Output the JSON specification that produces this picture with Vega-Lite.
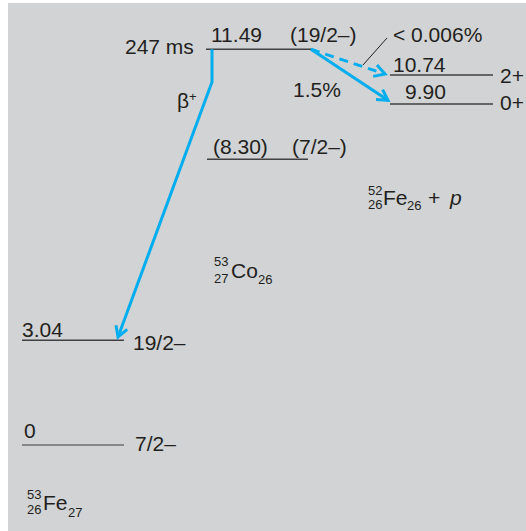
{
  "$schema": "https://vega.github.io/schema/vega-lite/v6.json",
  "autosize": "none",
  "width": 518,
  "height": 528,
  "padding": {"left": 8, "top": 3, "right": 0, "bottom": 0},
  "background": "#ffffff",
  "view": {"fill": "#d1d3d4", "stroke": null},
  "config": {"text": {"font": "Liberation Sans", "color": "#231f20", "align": "left", "baseline": "alphabetic"}},
  "datasets": {
    "levels": [
      {"nuclide": "53Co", "x1": 206, "x2": 312, "E": 11.49},
      {"nuclide": "53Co", "x1": 207, "x2": 308, "E": 8.30},
      {"nuclide": "52Fe+p", "x1": 390, "x2": 493, "E": 10.74},
      {"nuclide": "52Fe+p", "x1": 390, "x2": 493, "E": 9.90},
      {"nuclide": "53Fe", "x1": 22, "x2": 124, "E": 3.04},
      {"nuclide": "53Fe", "x1": 22, "x2": 124, "E": 0}
    ],
    "arrows": [
      {"id": "beta", "ord": 1, "x": 212, "E": 11.49},
      {"id": "beta", "ord": 2, "x": 212, "E": 10.54},
      {"id": "beta", "ord": 3, "x": 118, "E": 3.136},
      {"id": "betaHead", "ord": 1, "x": 116, "E": 3.478},
      {"id": "betaHead", "ord": 2, "x": 118, "E": 3.136},
      {"id": "betaHead", "ord": 3, "x": 127.2, "E": 3.359},
      {"id": "p0", "ord": 1, "x": 311, "E": 11.49},
      {"id": "p0", "ord": 2, "x": 388, "E": 10.009},
      {"id": "p0Head", "ord": 1, "x": 382.6, "E": 10.319},
      {"id": "p0Head", "ord": 2, "x": 388, "E": 10.009},
      {"id": "p0Head", "ord": 3, "x": 376, "E": 10.029},
      {"id": "p2Head", "ord": 1, "x": 377, "E": 11.034},
      {"id": "p2Head", "ord": 2, "x": 385, "E": 10.772},
      {"id": "p2Head", "ord": 3, "x": 373.2, "E": 10.703}
    ],
    "dashed": [
      {"id": "p2", "ord": 1, "x": 311, "E": 11.49},
      {"id": "p2", "ord": 2, "x": 383, "E": 10.79}
    ],
    "pointer": [
      {"id": "ptr", "ord": 1, "x": 387, "E": 11.818},
      {"id": "ptr", "ord": 2, "x": 363, "E": 11.034}
    ],
    "labels": [
      {"text": "247 ms", "x": 125, "E": 11.353, "role": "main"},
      {"text": "11.49", "x": 211, "E": 11.702, "role": "main"},
      {"text": "(19/2–)", "x": 290, "E": 11.702, "role": "main"},
      {"text": "< 0.006%", "x": 393, "E": 11.702, "role": "main"},
      {"text": "10.74", "x": 393, "E": 10.819, "role": "main"},
      {"text": "2+", "x": 500, "E": 10.499, "role": "main"},
      {"text": "9.90", "x": 405, "E": 10.046, "role": "main"},
      {"text": "0+", "x": 500, "E": 9.718, "role": "main"},
      {"text": "1.5%", "x": 293, "E": 10.105, "role": "main"},
      {"text": "β", "x": 177, "E": 9.785, "role": "main"},
      {"text": "+", "x": 189, "E": 9.988, "role": "script"},
      {"text": "(8.30)", "x": 213, "E": 8.447, "role": "main"},
      {"text": "(7/2–)", "x": 292, "E": 8.447, "role": "main"},
      {"text": "3.04", "x": 22, "E": 3.136, "role": "main"},
      {"text": "19/2–", "x": 133, "E": 2.758, "role": "main"},
      {"text": "0", "x": 24, "E": 0.203, "role": "main"},
      {"text": "7/2–", "x": 135, "E": -0.174, "role": "main"},
      {"text": "52", "x": 368, "E": 7.259, "role": "script"},
      {"text": "26", "x": 368, "E": 6.853, "role": "script"},
      {"text": "Fe", "x": 383, "E": 6.969, "role": "main"},
      {"text": "26", "x": 407, "E": 6.823, "role": "script"},
      {"text": "+", "x": 428, "E": 6.969, "role": "main"},
      {"text": "53", "x": 214, "E": 5.197, "role": "script"},
      {"text": "27", "x": 214, "E": 4.704, "role": "script"},
      {"text": "Co", "x": 231, "E": 4.849, "role": "main"},
      {"text": "26", "x": 258, "E": 4.675, "role": "script"},
      {"text": "53", "x": 27, "E": -1.568, "role": "script"},
      {"text": "26", "x": 27, "E": -2.003, "role": "script"},
      {"text": "Fe", "x": 43, "E": -1.887, "role": "main"},
      {"text": "27", "x": 68, "E": -2.09, "role": "script"}
    ],
    "italic": [
      {"text": "p", "x": 450, "E": 6.969}
    ]
  },
  "encoding": {
    "x": {"field": "x", "type": "quantitative", "scale": {"domain": [8, 526], "nice": false, "zero": false}, "axis": null},
    "y": {"field": "E", "type": "quantitative", "scale": {"domain": [-2.497, 12.834], "nice": false, "zero": false}, "axis": null}
  },
  "layer": [
    {
      "data": {"name": "levels"},
      "mark": {"type": "rule", "strokeWidth": 1.5},
      "encoding": {
        "x": {"field": "x1", "type": "quantitative"},
        "x2": {"field": "x2"},
        "color": {"condition": {"test": "datum.E == 0", "value": "#6d6e70"}, "value": "#414042"}
      }
    },
    {
      "data": {"name": "arrows"},
      "mark": {"type": "line", "color": "#00aeef", "strokeWidth": 3, "strokeJoin": "miter", "strokeCap": "butt"},
      "encoding": {
        "detail": {"field": "id"},
        "order": {"field": "ord", "type": "quantitative"}
      }
    },
    {
      "data": {"name": "dashed"},
      "mark": {"type": "line", "color": "#00aeef", "strokeWidth": 3, "strokeDash": [9, 6], "strokeCap": "butt"},
      "encoding": {
        "detail": {"field": "id"},
        "order": {"field": "ord", "type": "quantitative"}
      }
    },
    {
      "data": {"name": "pointer"},
      "mark": {"type": "line", "color": "#231f20", "strokeWidth": 1},
      "encoding": {
        "detail": {"field": "id"},
        "order": {"field": "ord", "type": "quantitative"}
      }
    },
    {
      "data": {"name": "labels"},
      "mark": {"type": "text"},
      "encoding": {
        "text": {"field": "text"},
        "size": {"field": "role", "type": "nominal", "scale": {"domain": ["main", "script"], "range": [21, 13]}, "legend": null}
      }
    },
    {
      "data": {"name": "italic"},
      "mark": {"type": "text", "fontStyle": "italic", "fontSize": 21},
      "encoding": {
        "text": {"field": "text"}
      }
    }
  ]
}
